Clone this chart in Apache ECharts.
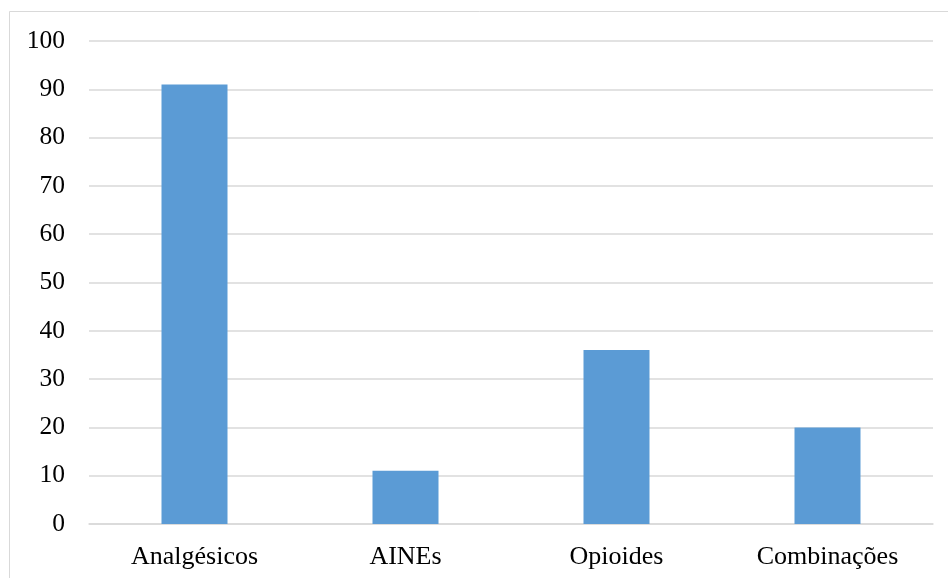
<!DOCTYPE html>
<html>
<head>
<meta charset="utf-8">
<style>
  html, body { margin: 0; padding: 0; background: #fff; }
  #chart { width: 948px; height: 578px; }
</style>
<script src="https://cdn.jsdelivr.net/npm/echarts@6/dist/echarts.min.js"></script>
</head>
<body>
<div id="chart"></div>
<script>
// Drug classes and their counts
const categories = ['Analgésicos', 'AINEs', 'Opioides', 'Combinações'];
const counts = [91, 11, 36, 20];

// Value axis settings
const yMin = 0;
const yMax = 100;
const yStep = 10;

const chart = echarts.init(document.getElementById('chart'));
const font = '"Liberation Serif", "Times New Roman", serif';

chart.setOption({
  animation: false,
  backgroundColor: '#ffffff',
  graphic: [{
    type: 'rect',
    shape: { x: 9.5, y: 11.5, width: 1000, height: 1000 },
    style: { fill: 'none', stroke: '#d9d9d9', lineWidth: 1 },
    silent: true
  }],
  grid: { left: 89, right: 15, top: 41, bottom: 54, containLabel: false },
  xAxis: {
    type: 'category',
    data: categories,
    axisLine: { show: true, lineStyle: { color: '#d9d9d9', width: 1.5 } },
    axisTick: { show: false },
    axisLabel: { color: '#000', fontFamily: font, fontSize: 26, margin: 20 }
  },
  yAxis: {
    type: 'value',
    min: yMin,
    max: yMax,
    interval: yStep,
    axisLine: { show: false },
    axisTick: { show: false },
    splitLine: { lineStyle: { color: '#d9d9d9', width: 1.5 } },
    axisLabel: { color: '#000', fontFamily: font, fontSize: 25.5, margin: 24 }
  },
  series: [{
    type: 'bar',
    data: counts,
    barWidth: 66,
    itemStyle: { color: '#5b9bd5' }
  }]
});
</script>
</body>
</html>
